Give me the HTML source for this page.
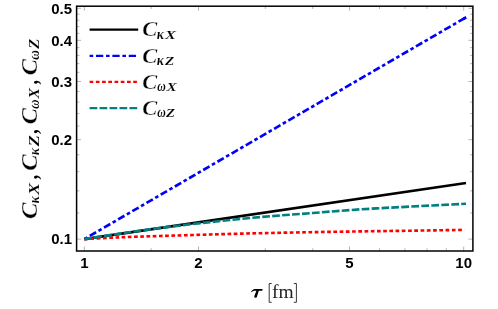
<!DOCTYPE html>
<html><head><meta charset="utf-8"><title>plot</title>
<style>
html,body{margin:0;padding:0;background:#fff;}
svg{display:block;will-change:transform;font-family:"Liberation Sans",sans-serif;font-weight:bold;font-size:15px;fill:#000}
.m{font-family:"Liberation Serif",serif;font-weight:bold;font-style:italic}
.c{stroke:#fff;stroke-width:0.3px}
.sb{stroke:#fff;stroke-width:0.1px}
.mi{font-family:"Liberation Serif",serif;font-weight:normal;font-style:italic}
</style></head><body>
<svg width="498" height="309" viewBox="0 0 498 309">
<rect width="498" height="309" fill="#fff"/>
<path d="M84.30 251.0 v-4.5 M84.30 6.2 v4.5 M151.11 251.0 v-2.8 M151.11 6.2 v2.8 M198.51 251.0 v-4.5 M198.51 6.2 v4.5 M265.32 251.0 v-2.8 M265.32 6.2 v2.8 M312.72 251.0 v-2.8 M312.72 6.2 v2.8 M349.49 251.0 v-4.5 M349.49 6.2 v4.5 M379.53 251.0 v-2.8 M379.53 6.2 v2.8 M404.93 251.0 v-2.8 M404.93 6.2 v2.8 M426.93 251.0 v-2.8 M426.93 6.2 v2.8 M446.34 251.0 v-2.8 M446.34 6.2 v2.8 M463.70 251.0 v-4.5 M463.70 6.2 v4.5 M76.6 239.10 h4.5 M472.9 239.10 h-4.5 M76.6 212.95 h2.8 M472.9 212.95 h-2.8 M76.6 190.85 h2.8 M472.9 190.85 h-2.8 M76.6 171.70 h2.8 M472.9 171.70 h-2.8 M76.6 154.81 h2.8 M472.9 154.81 h-2.8 M76.6 139.70 h4.5 M472.9 139.70 h-4.5 M76.6 126.03 h2.8 M472.9 126.03 h-2.8 M76.6 113.55 h2.8 M472.9 113.55 h-2.8 M76.6 102.08 h2.8 M472.9 102.08 h-2.8 M76.6 91.45 h2.8 M472.9 91.45 h-2.8 M76.6 81.55 h4.5 M472.9 81.55 h-4.5 M76.6 72.30 h2.8 M472.9 72.30 h-2.8 M76.6 63.61 h2.8 M472.9 63.61 h-2.8 M76.6 55.41 h2.8 M472.9 55.41 h-2.8 M76.6 47.66 h2.8 M472.9 47.66 h-2.8 M76.6 40.30 h4.5 M472.9 40.30 h-4.5 M76.6 33.30 h2.8 M472.9 33.30 h-2.8 M76.6 26.63 h2.8 M472.9 26.63 h-2.8 M76.6 20.26 h2.8 M472.9 20.26 h-2.8 M76.6 14.15 h2.8 M472.9 14.15 h-2.8 M76.6 8.30 h4.5 M472.9 8.30 h-4.5" stroke="#000" stroke-width="0.3" fill="none"/>
<path d="M84.30 239.10 L466.00 183.06" stroke="#000" stroke-width="2.65" fill="none"/>
<path d="M84.30 239.10 L466.00 17.36" stroke="#0000ff" stroke-width="2.65" stroke-dasharray="3.6 2.75 7.3 2.75" fill="none"/>
<path d="M463.2 18.99 L466.2 17.25" stroke="#0000ff" stroke-width="2.65" fill="none"/>
<path d="M84.30 239.10 C90.25 238.80 107.38 237.82 120.00 237.30 C132.62 236.78 145.00 236.47 160.00 236.00 C175.00 235.53 193.33 234.97 210.00 234.50 C226.67 234.03 243.33 233.58 260.00 233.20 C276.67 232.82 293.33 232.50 310.00 232.20 C326.67 231.90 343.33 231.65 360.00 231.40 C376.67 231.15 392.62 230.95 410.00 230.70 C427.38 230.45 455.25 230.03 464.30 229.90" stroke="#ff0000" stroke-width="2.65" stroke-dasharray="3.7 2.53" fill="none"/>
<path d="M84.30 239.10 C90.25 238.18 107.38 235.45 120.00 233.60 C132.62 231.75 145.00 229.92 160.00 228.00 C175.00 226.08 193.33 223.92 210.00 222.10 C226.67 220.28 243.33 218.58 260.00 217.10 C276.67 215.62 293.33 214.48 310.00 213.20 C326.67 211.92 343.33 210.50 360.00 209.40 C376.67 208.30 392.33 207.53 410.00 206.60 C427.67 205.67 456.67 204.27 466.00 203.80" stroke="#008080" stroke-width="2.65" stroke-dasharray="7.7 2.266" fill="none"/>
<rect x="76.6" y="6.2" width="396.30" height="244.80" fill="none" stroke="#000" stroke-width="1.5"/>
<text x="84.3" y="268.3" text-anchor="middle">1</text><text x="198.5" y="268.3" text-anchor="middle">2</text><text x="349.5" y="268.3" text-anchor="middle">5</text><text x="463.7" y="268.3" text-anchor="middle">10</text>
<text x="72" y="244.3" text-anchor="end">0.1</text><text x="72" y="144.9" text-anchor="end">0.2</text><text x="72" y="86.8" text-anchor="end">0.3</text><text x="72" y="45.5" text-anchor="end">0.4</text><text x="72" y="13.5" text-anchor="end">0.5</text>
<path d="M89.6 29.6 H138.2" stroke="#000" stroke-width="2.3" fill="none"/>
<text class="m c" transform="translate(142.33 36.35) scale(1.098 1)" font-size="20.46">C</text><text class="m sb" transform="translate(156.83 38.85) scale(0.961 1)" font-size="14.13">κ</text><text class="m sb" transform="translate(164.93 38.85) scale(1.264 1)" font-size="12.92">X</text>
<path d="M89.6 55.85 H138.2" stroke="#0000ff" stroke-width="2.3" stroke-dasharray="3.6 2.75 7.3 2.75" fill="none"/>
<text class="m c" transform="translate(142.33 62.60) scale(1.098 1)" font-size="20.46">C</text><text class="m sb" transform="translate(156.83 65.10) scale(0.961 1)" font-size="14.13">κ</text><text class="m sb" transform="translate(165.10 65.10) scale(1.264 1)" font-size="12.00">Z</text>
<path d="M89.6 81.9 H138.2" stroke="#ff0000" stroke-width="2.3" stroke-dasharray="3.7 2.53" fill="none"/>
<text class="m c" transform="translate(142.33 88.65) scale(1.098 1)" font-size="20.46">C</text><text class="m sb" transform="translate(157.16 91.15) scale(0.866 1)" font-size="13.62">ω</text><text class="m sb" transform="translate(166.41 91.15) scale(1.188 1)" font-size="12.92">X</text>
<path d="M89.6 108.1 H138.2" stroke="#008080" stroke-width="2.3" stroke-dasharray="7.7 2.266" fill="none"/>
<text class="m c" transform="translate(142.33 114.85) scale(1.098 1)" font-size="20.46">C</text><text class="m sb" transform="translate(157.16 117.35) scale(0.866 1)" font-size="13.62">ω</text><text class="m sb" transform="translate(166.10 117.35) scale(1.221 1)" font-size="12.00">Z</text>

<g transform="rotate(-90)"><text class="m c" transform="translate(-219.04 36.70) scale(1.067 1)" font-size="23.08">C</text><text class="m sb" transform="translate(-203.37 39.40) scale(0.934 1)" font-size="14.35">κ</text><text class="m sb" transform="translate(-195.04 39.40) scale(1.196 1)" font-size="15.08">X</text><text class="m" transform="translate(-178.72 36.70) scale(0.836 1)" font-size="22.67">,</text><text class="m c" transform="translate(-170.83 36.70) scale(1.060 1)" font-size="23.08">C</text><text class="m sb" transform="translate(-154.97 39.40) scale(0.934 1)" font-size="14.35">κ</text><text class="m sb" transform="translate(-146.50 39.40) scale(1.259 1)" font-size="14.92">Z</text><text class="m" transform="translate(-133.21 36.70) scale(0.859 1)" font-size="22.67">,</text><text class="m c" transform="translate(-124.23 36.70) scale(1.053 1)" font-size="23.08">C</text><text class="m sb" transform="translate(-108.75 39.40) scale(0.864 1)" font-size="14.68">ω</text><text class="m sb" transform="translate(-98.39 39.40) scale(1.037 1)" font-size="15.08">X</text><text class="m" transform="translate(-83.73 36.70) scale(0.813 1)" font-size="22.67">,</text><text class="m c" transform="translate(-75.23 36.70) scale(1.053 1)" font-size="23.08">C</text><text class="m sb" transform="translate(-59.77 39.40) scale(0.905 1)" font-size="14.68">ω</text><text class="m sb" transform="translate(-49.10 39.40) scale(1.144 1)" font-size="14.92">Z</text></g>
<path d="M251.1 292.0 C251.9 290.2 253.2 288.9 255.0 288.9 L262.6 288.9 L262.3 290.8 L258.8 290.8 C258.2 292.8 257.4 295.2 256.9 297.0 C256.6 298.0 254.0 298.0 254.2 296.8 C254.6 294.8 255.8 292.6 256.4 290.8 L255.0 290.8 C253.5 290.8 252.4 291.3 251.7 292.3 Z" fill="#000"/><text x="271.9" y="297.6" font-family="Liberation Serif" font-weight="normal" font-size="19.5" fill="#222">fm</text><path d="M271.7 283.5 H269.2 V302.3 H271.7 M293.8 283.5 H296.4 V302.3 H293.8" stroke="#222" stroke-width="0.9" fill="none"/>
</svg>
</body></html>
